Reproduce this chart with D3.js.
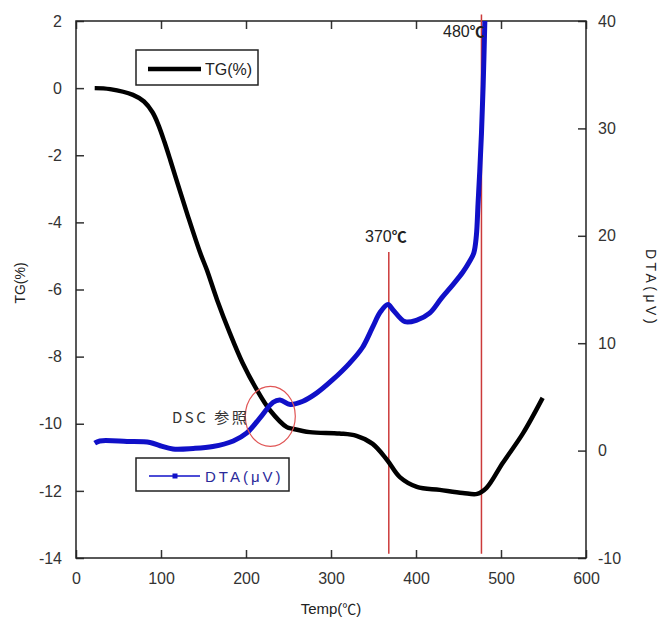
<!DOCTYPE html>
<html>
<head>
<meta charset="utf-8">
<script src="https://cdn.jsdelivr.net/npm/d3@7"></script>
<style>
  html, body { margin: 0; padding: 0; background: #fff; }
  svg { display: block; }
  text { font-family: "Liberation Sans", Arial, sans-serif; }
</style>
</head>
<body>
<svg id="chart" width="663" height="620"></svg>
<script>
// ---- data ----
const xTicks = [0, 100, 200, 300, 400, 500, 600];
const tgTicks = [-14, -12, -10, -8, -6, -4, -2, 0, 2];
const dtaTicks = [-10, 0, 10, 20, 30, 40];

// TG (%) vs temperature (°C)
const tgTemp = [22, 40, 67, 80, 90, 97, 104, 111, 119, 131, 146, 154, 166, 181, 196, 213, 228, 248, 255, 275, 310, 330, 349, 366, 381, 401, 428, 455, 472, 483, 502, 526, 549];
const tgVal  = [0, -0.03, -0.2, -0.4, -0.72, -1.1, -1.6, -2.15, -2.8, -3.76, -4.9, -5.42, -6.31, -7.3, -8.19, -9.0, -9.59, -10.1, -10.15, -10.25, -10.29, -10.36, -10.6, -11.08, -11.59, -11.88, -11.97, -12.06, -12.09, -11.91, -11.17, -10.28, -9.23];

// DTA (μV) vs temperature (°C)
const dtaTemp = [22, 28, 60, 87, 99, 114, 138, 161, 185, 201, 216, 232, 240, 252, 267, 283, 302, 322, 337, 349, 358, 367, 373, 387, 401, 416, 430, 444, 455, 463, 468, 471, 473, 475, 477, 479, 481];
const dtaVal  = [0.7, 0.9, 0.85, 0.75, 0.45, 0.15, 0.2, 0.38, 0.9, 1.65, 3.0, 4.5, 4.7, 4.3, 4.6, 5.35, 6.6, 8.15, 9.6, 11.5, 12.9, 13.6, 13.1, 12.0, 12.15, 12.8, 14.2, 15.5, 16.6, 17.6, 18.4, 20.0, 23.0, 26.0, 29.5, 34.0, 40];

// annotations
const markTemps = [368, 477];
const markNums = ["370", "480"];

// ---- layout ----
const svg = d3.select("#chart");
const L = 76, R = 586, T = 21, B = 558;
const x = d3.scaleLinear().domain([0, 600]).range([L, R]);
const yL = d3.scaleLinear().domain([-14, 2]).range([B, T]);
const yR = d3.scaleLinear().domain([-10, 40]).range([B, T]);

const tgData = tgTemp.map((t, i) => [t, tgVal[i]]);
const dtaData = dtaTemp.map((t, i) => [t, dtaVal[i]]);
const fmt = d => String(d);

// axes
function styleAxis(g) {
  g.select(".domain").remove();
  g.selectAll(".tick line").attr("stroke", "#333").attr("stroke-width", 1.5);
  g.selectAll(".tick text").attr("fill", "#333").style("font-size", "16px")
    .style("font-family", "'Liberation Sans', Arial, sans-serif");
}
svg.append("g").attr("transform", `translate(0,${B})`)
  .call(d3.axisBottom(x).tickValues(xTicks).tickSize(-8).tickPadding(15).tickFormat(fmt))
  .call(styleAxis);
svg.append("g").attr("transform", `translate(0,${T})`)
  .call(d3.axisTop(x).tickValues(xTicks).tickSize(-8).tickFormat(""))
  .call(styleAxis);
svg.append("g").attr("transform", `translate(${L},0)`)
  .call(d3.axisLeft(yL).tickValues(tgTicks).tickSize(-8).tickPadding(14).tickFormat(fmt))
  .call(styleAxis);
svg.append("g").attr("transform", `translate(${R},0)`)
  .call(d3.axisRight(yR).tickValues(dtaTicks).tickSize(-8).tickPadding(12).tickFormat(fmt))
  .call(styleAxis);

// frame
svg.append("rect").attr("x", L).attr("y", T).attr("width", R - L).attr("height", B - T)
  .attr("fill", "none").attr("stroke", "#222").attr("stroke-width", 1.5);

// red marker lines
svg.append("line").attr("x1", x(markTemps[0])).attr("x2", x(markTemps[0]))
  .attr("y1", yR(18.5)).attr("y2", yR(-9.6)).attr("stroke", "#cc3a3a").attr("stroke-width", 1.5);
svg.append("line").attr("x1", x(markTemps[1])).attr("x2", x(markTemps[1]))
  .attr("y1", yR(40.6)).attr("y2", yR(-9.6)).attr("stroke", "#cc3a3a").attr("stroke-width", 1.5);

// curves
const lineTG = d3.line().x(d => x(d[0])).y(d => yL(d[1])).curve(d3.curveCatmullRom.alpha(0.5));
const lineDTA = d3.line().x(d => x(d[0])).y(d => yR(d[1])).curve(d3.curveCatmullRom.alpha(0.5));

svg.append("path").datum(tgData).attr("d", lineTG)
  .attr("fill", "none").attr("stroke", "#000").attr("stroke-width", 4.5).attr("stroke-linejoin", "round");
svg.append("path").datum(dtaData).attr("d", lineDTA)
  .attr("fill", "none").attr("stroke", "#1010c8").attr("stroke-width", 5).attr("stroke-linejoin", "round");

// red ellipse (DSC reference)
svg.append("ellipse").attr("cx", x(228.6)).attr("cy", yL(-9.78)).attr("rx", 25).attr("ry", 30)
  .attr("fill", "none").attr("stroke", "#e05555").attr("stroke-width", 1.2);

// annotation texts
function tempLabel(px, py, num) {
  const t = svg.append("text").attr("x", px).attr("y", py).attr("fill", "#222").style("font-size", "16px");
  t.append("tspan").text(num);
  t.append("tspan").text("℃").style("font-family", "'Noto Sans CJK JP', sans-serif")
    .style("font-weight", "bold").style("font-size", "15px");
}
tempLabel(365, 242, markNums[0]);
tempLabel(443, 37, markNums[1]);

svg.append("text").attr("x", 172).attr("y", 423).text("DSC 参照")
  .attr("fill", "#333").style("font-size", "15px").style("letter-spacing", "2.5px")
  .style("font-family", "'Noto Sans CJK JP', 'Liberation Sans', sans-serif");

// legends
const lg1 = svg.append("g");
lg1.append("rect").attr("x", 136).attr("y", 50).attr("width", 122).attr("height", 35)
  .attr("fill", "#fff").attr("stroke", "#222").attr("stroke-width", 1.5);
lg1.append("line").attr("x1", 148).attr("x2", 201).attr("y1", 69).attr("y2", 69)
  .attr("stroke", "#000").attr("stroke-width", 4.5);
lg1.append("text").attr("x", 205).attr("y", 75).text("TG(%)").attr("fill", "#222").style("font-size", "16px");

const lg2 = svg.append("g");
lg2.append("rect").attr("x", 136).attr("y", 458).attr("width", 153).attr("height", 33)
  .attr("fill", "#fff").attr("stroke", "#222").attr("stroke-width", 1.5);
lg2.append("line").attr("x1", 149).attr("x2", 200).attr("y1", 476).attr("y2", 476)
  .attr("stroke", "#1010c8").attr("stroke-width", 1.5);
lg2.append("rect").attr("x", 172.5).attr("y", 473.5).attr("width", 5).attr("height", 5).attr("fill", "#1010c8");
lg2.append("text").attr("x", 205).attr("y", 482).text("DTA(μV)").attr("fill", "#2a2a9a")
  .style("font-size", "15px").style("letter-spacing", "3px");

// axis titles
svg.append("text").attr("transform", "translate(25,283) rotate(-90)").attr("text-anchor", "middle")
  .text("TG(%)").attr("fill", "#222").style("font-size", "14px");
svg.append("text").attr("transform", "translate(646,288) rotate(90)").attr("text-anchor", "middle")
  .text("DTA(μV)").attr("fill", "#222").style("font-size", "14px").style("letter-spacing", "3.5px");
const tt = svg.append("text").attr("x", 331).attr("y", 614).attr("text-anchor", "middle")
  .attr("fill", "#222").style("font-size", "15px");
tt.append("tspan").text("Temp(");
tt.append("tspan").text("℃").style("font-family", "'Noto Sans CJK JP', sans-serif").style("font-size", "14px");
tt.append("tspan").text(")");
</script>
</body>
</html>
